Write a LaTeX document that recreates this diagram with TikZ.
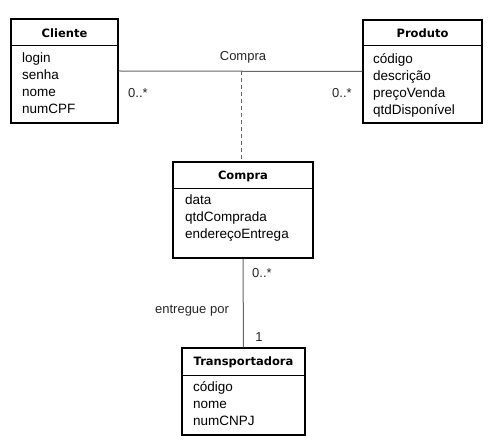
\documentclass[tikz,border=0pt]{standalone}
\usepackage{fontspec}
\setmainfont{Liberation Sans}
\newfontfamily\headfont{DejaVu Sans}
\begin{document}
\begin{tikzpicture}[x=1pt,y=-1pt,
  classbox/.style={draw=black,line width=1.4pt,fill=white,inner sep=0pt},
  divider/.style={draw=black,line width=0.8pt},
  head/.style={font=\headfont\bfseries\fontsize{11.5}{13}\selectfont,inner sep=0pt},
  attrs/.style={font=\fontsize{13.5}{17}\selectfont,align=left,anchor=north west,inner sep=0pt},
  assoc/.style={draw=black!60,line width=1pt},
  lbl/.style={font=\fontsize{13}{15}\selectfont,inner sep=0pt,text=black!85}]
\useasboundingbox (0,0) rectangle (492,443);
% Cliente
\node[classbox,minimum width=107pt,minimum height=104pt] (cliente) at (64.5,71) {};
\draw[divider] (11,45) -- (118,45);
\node[head] (clienteh) at (64.5,33) {Cliente};
\node[attrs] (clientea) at (22,53) {login\\senha\\nome\\numCPF};
% Produto
\node[classbox,minimum width=119pt,minimum height=103pt] (produto) at (422.5,71.5) {};
\draw[divider] (363,45) -- (482,45);
\node[head] (produtoh) at (422.5,33) {Produto};
\node[attrs] (produtoa) at (373,53) {código\\descrição\\preçoVenda\\qtdDisponível};
% Compra
\node[classbox,minimum width=140pt,minimum height=96pt] (compra) at (243,210) {};
\draw[divider] (173,188) -- (313,188);
\node[head] (comprah) at (243,176) {Compra};
\node[attrs] (compraa) at (185,195) {data\\qtdComprada\\endereçoEntrega};
% Transportadora
\node[classbox,minimum width=123pt,minimum height=87pt] (transp) at (243.5,391.5) {};
\draw[divider] (182,375) -- (305,375);
\node[head] (transph) at (243.5,362) {Transportadora};
\node[attrs] (transpa) at (193,381) {código\\nome\\numCNPJ};
% connectors
\coordinate (mid) at (241,71);
\draw[assoc] (cliente.east) -- (produto.west);
\draw[assoc,dashed,dash pattern=on 4pt off 3pt] (mid) -- (241,162);
\draw[assoc] (compra.south) -- (transp.north);
% labels
\node[lbl] (lcompra) at (243,57) {Compra};
\node[lbl] (m1) at (138,93) {0..*};
\node[lbl] (m2) at (342,93) {0..*};
\node[lbl] (m3) at (262,273) {0..*};
\node[lbl] (lent) at (192,311) {entregue por};
\node[lbl] (m4) at (259,337) {1};
\end{tikzpicture}
\end{document}
